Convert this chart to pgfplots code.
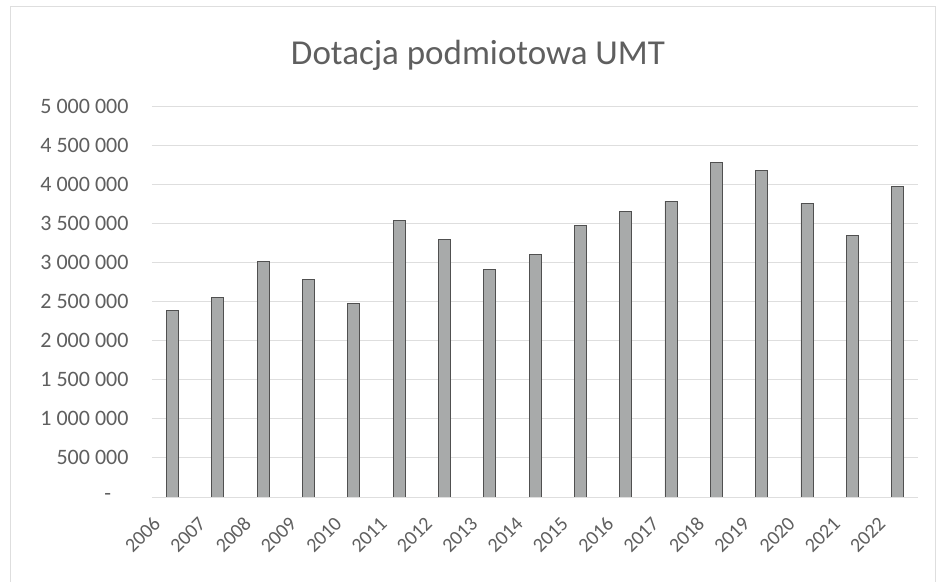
\documentclass[border=0pt]{standalone}
\usepackage{pgfplots}
\pgfplotsset{compat=1.18}
\usepackage{fontspec}
\setmainfont{Carlito}
\definecolor{txt}{RGB}{95,95,95}
\definecolor{barfill}{RGB}{168,170,170}
\definecolor{baredge}{RGB}{80,80,80}
\definecolor{gridc}{RGB}{222,222,222}
\pgfplotstableread{
x year value
0 2006 2390000
1 2007 2552000
2 2008 3016000
3 2009 2782000
4 2010 2475000
5 2011 3537000
6 2012 3289000
7 2013 2910000
8 2014 3106000
9 2015 3473000
10 2016 3647000
11 2017 3784000
12 2018 4279000
13 2019 4172000
14 2020 3755000
15 2021 3349000
16 2022 3976000
}\datatable
\begin{document}
\begin{tikzpicture}
\fill[white] (-152pt,-85pt) rectangle (790pt,497pt);
\draw[gridc,line width=0.8pt] (-142pt,-85pt) -- (-142pt,491pt) -- (783pt,491pt) -- (783pt,-85pt);
\node[anchor=base, text=txt, font=\fontsize{35}{42}\selectfont] at (326pt,432pt) {Dotacja podmiotowa UMT};
\begin{axis}[
  at={(0pt,0pt)}, anchor=south west,
  scale only axis, width=766pt, height=391pt,
  xmin=-0.45, xmax=16.45, ymin=0, ymax=5000000,
  axis line style={draw=none},
  major tick length=0pt,
  ymajorgrids, grid style={gridc, line width=0.8pt},
  ytick={0,500000,...,5000000},
  yticklabels={\makebox[24pt][l]{-},500 000,1 000 000,1 500 000,2 000 000,2 500 000,3 000 000,3 500 000,4 000 000,4 500 000,5 000 000},
  yticklabel style={text=txt, font=\fontsize{22}{26}\selectfont, xshift=-20pt},
  xtick=data,
  xticklabels from table={\datatable}{year},
  xticklabel style={text=txt, font=\fontsize{20}{24}\selectfont, xshift=-13pt, yshift=-21pt, rotate=45, anchor=east},
  scaled y ticks=false,
]
\addplot[ybar, bar width=12pt, fill=barfill, draw=baredge, line width=0.8pt] table[x=x, y=value] {\datatable};
\end{axis}
\end{tikzpicture}
\end{document}
